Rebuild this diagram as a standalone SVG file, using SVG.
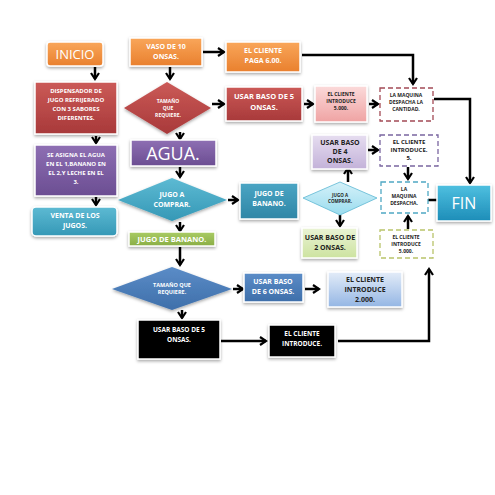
<svg xmlns="http://www.w3.org/2000/svg" width="495" height="495" viewBox="0 0 495 495">
<defs>
<filter id="sh" x="-20%" y="-20%" width="140%" height="150%"><feDropShadow dx="0" dy="1.5" stdDeviation="1.5" flood-color="#000" flood-opacity="0.35"/></filter>
<linearGradient id="gOr" x1="0" y1="0" x2="0" y2="1"><stop offset="0" stop-color="#F9A65A"/><stop offset="1" stop-color="#E9802E"/></linearGradient>
<linearGradient id="gRed" x1="0" y1="0" x2="0" y2="1"><stop offset="0" stop-color="#CB5A57"/><stop offset="1" stop-color="#A8393A"/></linearGradient>
<linearGradient id="gPink" x1="0" y1="0" x2="0" y2="1"><stop offset="0" stop-color="#FBDADA"/><stop offset="1" stop-color="#EFA3A3"/></linearGradient>
<linearGradient id="gPur" x1="0" y1="0" x2="0" y2="1"><stop offset="0" stop-color="#8E6FB3"/><stop offset="1" stop-color="#6B4D92"/></linearGradient>
<linearGradient id="gCy" x1="0" y1="0" x2="0" y2="1"><stop offset="0" stop-color="#5DBAD3"/><stop offset="1" stop-color="#3598B6"/></linearGradient>
<linearGradient id="gTeal" x1="0" y1="0" x2="0" y2="1"><stop offset="0" stop-color="#4AA5C4"/><stop offset="1" stop-color="#2F86A6"/></linearGradient>
<linearGradient id="gFin" x1="0" y1="0" x2="0" y2="1"><stop offset="0" stop-color="#4FC0E0"/><stop offset="1" stop-color="#1D8DB8"/></linearGradient>
<linearGradient id="gLcy" x1="0" y1="0" x2="0" y2="1"><stop offset="0" stop-color="#D5F1F9"/><stop offset="1" stop-color="#9ADCEE"/></linearGradient>
<linearGradient id="gGr" x1="0" y1="0" x2="0" y2="1"><stop offset="0" stop-color="#A9CB63"/><stop offset="1" stop-color="#8AAE47"/></linearGradient>
<linearGradient id="gLgr" x1="0" y1="0" x2="0" y2="1"><stop offset="0" stop-color="#EAF3D5"/><stop offset="1" stop-color="#CDE3A0"/></linearGradient>
<linearGradient id="gLav" x1="0" y1="0" x2="0" y2="1"><stop offset="0" stop-color="#E6DDF0"/><stop offset="1" stop-color="#C3B2D9"/></linearGradient>
<linearGradient id="gBl" x1="0" y1="0" x2="0" y2="1"><stop offset="0" stop-color="#5B8CC7"/><stop offset="1" stop-color="#3E6FAA"/></linearGradient>
<linearGradient id="gLbl" x1="0" y1="0" x2="0" y2="1"><stop offset="0" stop-color="#E3ECF8"/><stop offset="1" stop-color="#94B6E4"/></linearGradient>
<marker id="ah" viewBox="0 0 10 10" refX="8" refY="5" markerWidth="4" markerHeight="4" orient="auto" markerUnits="strokeWidth">
<polyline points="2,1 8,5 2,9" fill="none" stroke="#000" stroke-width="2.2"/>
</marker>
</defs>
<style>
text{font-family:"Open Sans","Liberation Sans",sans-serif;font-weight:bold;text-anchor:middle}
text.big{font-weight:normal}
.w{fill:#fff}
.d{fill:#222}
.box{stroke:#fff;stroke-width:1.5;filter:url(#sh)}
.dia{filter:url(#sh)}
.dash{fill:#fff;stroke-width:1.3;stroke-dasharray:5,3}
.c line,.c polyline{stroke:#000;stroke-width:2.5;fill:none}
</style>
<rect width="495" height="495" fill="#fff"/>

<g class="c" id="connectors">
<line x1="95" y1="67" x2="95" y2="79" marker-end="url(#ah)"/>
<line x1="96" y1="136" x2="96" y2="143" marker-end="url(#ah)"/>
<line x1="96" y1="197" x2="96" y2="205" marker-end="url(#ah)"/>
<line x1="170" y1="67" x2="170" y2="79" marker-end="url(#ah)"/>
<line x1="203" y1="52" x2="224" y2="52" marker-end="url(#ah)"/>
<polyline points="302,55 413,55 413,84" marker-end="url(#ah)"/>
<line x1="212" y1="104" x2="224" y2="104" marker-end="url(#ah)"/>
<line x1="304" y1="104" x2="313" y2="104" marker-end="url(#ah)"/>
<line x1="369" y1="104" x2="378" y2="104" marker-end="url(#ah)"/>
<polyline points="434,99 470,99 470,183" marker-end="url(#ah)"/>
<line x1="180" y1="132" x2="180" y2="139" marker-end="url(#ah)"/>
<line x1="180" y1="167" x2="180" y2="177" marker-end="url(#ah)"/>
<line x1="228" y1="200" x2="238" y2="200" marker-end="url(#ah)"/>
<line x1="180" y1="222" x2="180" y2="231" marker-end="url(#ah)"/>
<line x1="348" y1="182" x2="348" y2="168" marker-end="url(#ah)"/>
<line x1="368" y1="150" x2="378" y2="150" marker-end="url(#ah)"/>
<line x1="408" y1="167" x2="408" y2="179" marker-end="url(#ah)"/>
<line x1="428" y1="200" x2="437" y2="200"/>
<line x1="340" y1="215" x2="340" y2="226" marker-end="url(#ah)"/>
<line x1="408" y1="229" x2="408" y2="216" marker-end="url(#ah)"/>
<line x1="180" y1="247" x2="180" y2="265" marker-end="url(#ah)"/>
<line x1="233" y1="289" x2="243" y2="289" marker-end="url(#ah)"/>
<line x1="305" y1="289" x2="319" y2="289" marker-end="url(#ah)"/>
<line x1="182" y1="310" x2="182" y2="318" marker-end="url(#ah)"/>
<line x1="221" y1="341" x2="266" y2="341" marker-end="url(#ah)"/>
<polyline points="338,341 429,341 429,269" marker-end="url(#ah)"/>
</g>

<g id="inicio"><rect class="box" x="47" y="42" width="56" height="24" rx="3" fill="url(#gOr)"/><text class="w big" x="75" y="59" font-size="13">INICIO</text></g>
<g id="vaso"><rect class="box" x="130" y="38" width="72" height="28" fill="url(#gOr)"/><text class="w" font-size="7"><tspan x="166" y="49">VASO DE 10</tspan><tspan x="166" y="59">ONSAS.</tspan></text></g>
<g id="paga"><rect class="box" x="226" y="42" width="74" height="30" fill="url(#gOr)"/><text class="w" font-size="7"><tspan x="263" y="53">EL CLIENTE</tspan><tspan x="263" y="63">PAGA 6.00.</tspan></text></g>
<g id="dispensador"><rect class="box" x="35" y="82" width="82" height="52" fill="url(#gRed)"/><text class="w" font-size="6"><tspan x="76" y="93">DISPENSADOR DE</tspan><tspan x="76" y="102">JUGO REFRIJERADO</tspan><tspan x="76" y="111">CON 3 SABORES</tspan><tspan x="76" y="120">DIFERENTES.</tspan></text></g>
<g id="tamano1"><polygon class="dia" points="167,82 211,108 167,134 124,108" fill="url(#gRed)"/><text class="w" font-size="5"><tspan x="168" y="103">TAMAÑO</tspan><tspan x="168" y="110">QUE</tspan><tspan x="168" y="117">REQUIERE.</tspan></text></g>
<g id="baso5a"><rect class="box" x="226" y="87" width="76" height="34" fill="url(#gRed)"/><text class="w" font-size="7.5"><tspan x="264" y="99">USAR BASO DE 5</tspan><tspan x="264" y="110">ONSAS.</tspan></text></g>
<g id="introduce5000a"><rect class="box" x="315" y="86" width="52" height="36" fill="url(#gPink)"/><text class="d" font-size="5"><tspan x="341" y="96">EL CLIENTE</tspan><tspan x="341" y="103">INTRODUCE</tspan><tspan x="341" y="110">5.000.</tspan></text></g>
<g id="despacha1"><rect class="dash" x="380" y="88" width="53" height="33" stroke="#A34A55"/><text class="d" font-size="5"><tspan x="406" y="97">LA MAQUINA</tspan><tspan x="406" y="104">DESPACHA LA</tspan><tspan x="406" y="111">CANTIDAD.</tspan></text></g>
<g id="agua"><rect class="box" x="131" y="140" width="85" height="26" fill="url(#gPur)"/><text class="w big" x="173" y="160" font-size="18">AGUA.</text></g>
<g id="asigna"><rect class="box" x="35" y="145" width="82" height="51" fill="url(#gPur)"/><text class="w" font-size="6"><tspan x="76" y="157">SE ASIGNA EL AGUA</tspan><tspan x="76" y="166">EN EL 1,BANANO EN</tspan><tspan x="76" y="175">EL 2,Y LECHE EN EL</tspan><tspan x="76" y="184">3.</tspan></text></g>
<g id="venta"><rect class="box" x="32" y="207" width="85" height="29" rx="4" fill="url(#gCy)"/><text class="w" font-size="7"><tspan x="75" y="218">VENTA DE LOS</tspan><tspan x="75" y="228">JUGOS.</tspan></text></g>
<g id="jugoComprar1"><polygon class="dia" points="172,178 227,200 172,221 118,200" fill="url(#gCy)"/><text class="w" font-size="7"><tspan x="172" y="197">JUGO A</tspan><tspan x="172" y="207">COMPRAR.</tspan></text></g>
<g id="jugoBanano1"><rect class="box" x="240" y="183" width="58" height="36" fill="url(#gTeal)"/><text class="w" font-size="7"><tspan x="269" y="196">JUGO DE</tspan><tspan x="269" y="206">BANANO.</tspan></text></g>
<g id="jugoComprar2"><polygon points="340,182 377,198 340,215 303,198" fill="url(#gLcy)" stroke="#5DB8D3" stroke-width="0.8"/><text class="d" font-size="4.5"><tspan x="340" y="197">JUGO A</tspan><tspan x="340" y="203">COMPRAR.</tspan></text></g>
<g id="baso4"><rect class="box" x="312" y="135" width="55" height="34" fill="url(#gLav)"/><text class="d" font-size="7"><tspan x="340" y="145">USAR BASO</tspan><tspan x="340" y="154">DE 4</tspan><tspan x="340" y="163">ONSAS.</tspan></text></g>
<g id="introduce5"><rect class="dash" x="380" y="135" width="58" height="31" stroke="#7A66A0"/><text class="d" font-size="6"><tspan x="409" y="144">EL CLIENTE</tspan><tspan x="409" y="152">INTRODUCE.</tspan><tspan x="409" y="160">5.</tspan></text></g>
<g id="despacha2"><rect class="dash" x="381" y="182" width="47" height="31" stroke="#4FA8C4"/><text class="d" font-size="5"><tspan x="404" y="191">LA</tspan><tspan x="404" y="198">MAQUINA</tspan><tspan x="404" y="205">DESPACHA.</tspan></text></g>
<g id="fin"><rect class="box" x="437" y="185" width="54" height="36" fill="url(#gFin)"/><text class="w big" x="464" y="209" font-size="16">FIN</text></g>
<g id="baso2"><rect class="box" x="302" y="228" width="55" height="30" fill="url(#gLgr)"/><text class="d" font-size="7"><tspan x="330" y="240">USAR BASO DE</tspan><tspan x="330" y="250">2 ONSAS.</tspan></text></g>
<g id="introduce5000b"><rect class="dash" x="380" y="230" width="53" height="28" stroke="#B9C46A"/><text class="d" font-size="5"><tspan x="406" y="239">EL CLIENTE</tspan><tspan x="406" y="246">INTRODUCE</tspan><tspan x="406" y="253">5.000.</tspan></text></g>
<g id="jugoBanano2"><rect class="box" x="129" y="232" width="86" height="14" fill="url(#gGr)"/><text class="w" x="172" y="242" font-size="7.5">JUGO DE BANANO.</text></g>
<g id="tamano2"><polygon class="dia" points="172,267 232,289 172,310 112,289" fill="url(#gBl)"/><text class="w" font-size="5.5"><tspan x="172" y="287">TAMAÑO QUE</tspan><tspan x="172" y="294">REQUIERE.</tspan></text></g>
<g id="baso6"><rect class="box" x="244" y="273" width="59" height="29" fill="url(#gBl)"/><text class="w" font-size="7"><tspan x="273" y="284">USAR BASO</tspan><tspan x="273" y="294">DE 6 ONSAS.</tspan></text></g>
<g id="introduce2000"><rect class="box" x="328" y="272" width="74" height="35" fill="url(#gLbl)"/><text class="d" font-size="7"><tspan x="365" y="282">EL CLIENTE</tspan><tspan x="365" y="292">INTRODUCE</tspan><tspan x="365" y="302">2.000.</tspan></text></g>
<g id="baso5b"><rect class="box" x="138" y="320" width="82" height="39" fill="#000"/><text class="w" font-size="6.5"><tspan x="179" y="332">USAR BASO DE 5</tspan><tspan x="179" y="342">ONSAS.</tspan></text></g>
<g id="introduceNegro"><rect class="box" x="269" y="325" width="66" height="32" fill="#000"/><text class="w" font-size="6.5"><tspan x="302" y="336">EL CLIENTE</tspan><tspan x="302" y="346">INTRODUCE.</tspan></text></g>
</svg>
